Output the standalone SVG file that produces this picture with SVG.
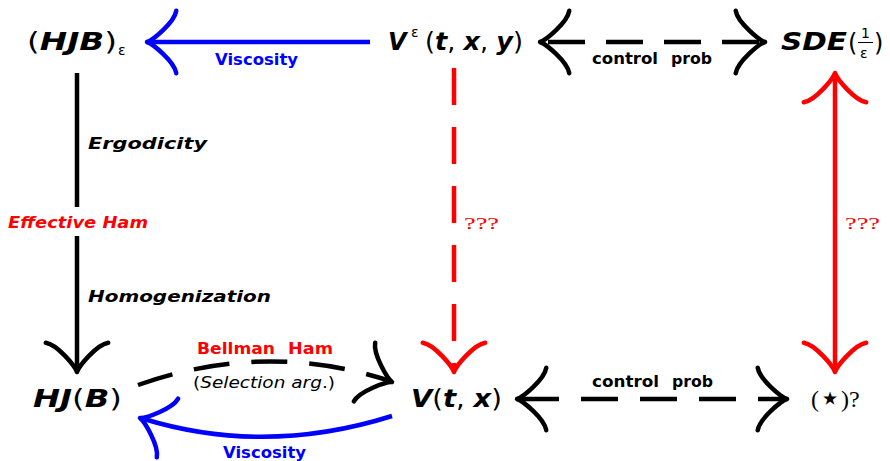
<svg xmlns="http://www.w3.org/2000/svg" xmlns:xlink="http://www.w3.org/1999/xlink" width="890" height="461" viewBox="0 0 890 461">
<defs>
<style>
.ln{fill:none;stroke-width:4.5}
.ah{fill:none;stroke-width:4.5;stroke-linecap:round;stroke-linejoin:round}
.k{stroke:#000}.b{stroke:#0000ff}.r{stroke:#ff0000}
.m{font-family:"DejaVu Sans",sans-serif;font-size:24px;fill:#000}
.bi{font-weight:bold;font-style:italic}
.lab{font-family:"DejaVu Sans",sans-serif;font-weight:bold;font-size:16px}
.ser{font-family:"Liberation Serif",serif}
.sm{font-family:"DejaVu Sans",sans-serif;font-size:14px;fill:#000}
</style>
<path id="ah" d="M-29.25,-31.2 C-27.3,-19.5 -5.85,-1.95 0,0 C-5.85,1.95 -27.3,19.5 -29.25,31.2"/>
</defs>
<rect width="890" height="461" fill="#fff"/>

<g id="connectors">
  <!-- Viscosity top -->
  <path class="ln b" d="M370,42 H152"/>
  <use href="#ah" class="ah b" transform="translate(147,42) rotate(180)"/>
  <text class="lab" x="215" y="65" fill="#0000ff" textLength="83" lengthAdjust="spacingAndGlyphs">Viscosity</text>
  <!-- control prob top -->
  <path class="ln k" d="M548,42 H760" stroke-dasharray="37 21"/>
  <use href="#ah" class="ah k" transform="translate(540,42) rotate(180)"/>
  <use href="#ah" class="ah k" transform="translate(765,42)"/>
  <text class="lab" x="592" y="64" fill="#000" textLength="66" lengthAdjust="spacingAndGlyphs">control</text>
  <text class="lab" x="671" y="64" fill="#000" textLength="41" lengthAdjust="spacingAndGlyphs">prob</text>
  <!-- left vertical -->
  <path class="ln k" d="M77,73 V207 M77,236 V367"/>
  <use href="#ah" class="ah k" transform="translate(77,372) rotate(90)"/>
  <text class="lab bi" x="88" y="149" fill="#000" textLength="119" lengthAdjust="spacingAndGlyphs">Ergodicity</text>
  <text class="lab bi" x="8" y="228" fill="#ff0000" textLength="140" lengthAdjust="spacingAndGlyphs">Effective Ham</text>
  <text class="lab bi" x="88" y="302" fill="#000" textLength="183" lengthAdjust="spacingAndGlyphs">Homogenization</text>
  <!-- middle red dashed -->
  <path class="ln r" d="M454,68 V367" stroke-dasharray="37 22"/>
  <use href="#ah" class="ah r" transform="translate(454,372) rotate(90)"/>
  <text class="ser" x="464" y="229" font-size="17" fill="#ff0000" textLength="35" lengthAdjust="spacingAndGlyphs">???</text>
  <!-- right red double -->
  <path class="ln r" d="M835,78 V367"/>
  <use href="#ah" class="ah r" transform="translate(835,73) rotate(-90)"/>
  <use href="#ah" class="ah r" transform="translate(835,372) rotate(90)"/>
  <text class="ser" x="845" y="229" font-size="17" fill="#ff0000" textLength="35" lengthAdjust="spacingAndGlyphs">???</text>
  <!-- Bellman Ham dashed curve -->
  <path class="ln k" d="M138,385 Q265,340 390,381" stroke-dasharray="36 22"/>
  <use href="#ah" class="ah k" transform="translate(392,382) rotate(20)"/>
  <text class="lab" x="197" y="354" fill="#ff0000" textLength="78" lengthAdjust="spacingAndGlyphs">Bellman</text>
  <text class="lab" x="288" y="354" fill="#ff0000" textLength="45" lengthAdjust="spacingAndGlyphs">Ham</text>
  <text x="193" y="388" font-family="DejaVu Sans, sans-serif" font-size="16" fill="#000" textLength="142" lengthAdjust="spacingAndGlyphs">(<tspan font-style="italic">Selection arg</tspan>.)</text>
  <!-- Viscosity bottom -->
  <path class="ln b" d="M392,416 Q265,456 144,419"/>
  <use href="#ah" class="ah b" transform="translate(140,418) rotate(200)"/>
  <text class="lab" x="223" y="458" fill="#0000ff" textLength="83" lengthAdjust="spacingAndGlyphs">Viscosity</text>
  <!-- control prob bottom -->
  <path class="ln k" d="M522,399 H782" stroke-dasharray="37 22"/>
  <use href="#ah" class="ah k" transform="translate(517,399) rotate(180)"/>
  <use href="#ah" class="ah k" transform="translate(787,399)"/>
  <text class="lab" x="592" y="387" fill="#000" textLength="67" lengthAdjust="spacingAndGlyphs">control</text>
  <text class="lab" x="672" y="387" fill="#000" textLength="41" lengthAdjust="spacingAndGlyphs">prob</text>
</g>

<g id="n-hjbe">
  <text class="m" x="27" y="50" textLength="90" lengthAdjust="spacingAndGlyphs">(<tspan class="bi">HJB</tspan>)</text>
  <text class="sm" x="118" y="55" font-size="18">ε</text>
</g>
<g id="n-veps">
  <text class="m bi" x="388" y="50">V</text>
  <text class="sm" x="411" y="37" font-size="18">ε</text>
  <text class="m" x="425" y="50" textLength="98" lengthAdjust="spacingAndGlyphs">(<tspan class="bi">t</tspan>, <tspan class="bi">x</tspan>, <tspan class="bi">y</tspan>)</text>
</g>
<g id="n-sde">
  <text class="m bi" x="781" y="50" textLength="66" lengthAdjust="spacingAndGlyphs">SDE</text>
  <text class="m" x="848" y="51" font-size="25">(</text>
  <text class="sm" x="861" y="38" font-size="15">1</text>
  <path d="M858,42.5 H873" stroke="#000" stroke-width="1"/>
  <text class="sm" x="860" y="58" font-size="15">ε</text>
  <text class="m" x="874" y="51" font-size="25">)</text>
</g>
<g id="n-hj">
  <text class="m" x="33" y="407" textLength="89" lengthAdjust="spacingAndGlyphs"><tspan class="bi">HJ</tspan>(<tspan class="bi">B</tspan>)</text>
</g>
<g id="n-v">
  <text class="m" x="411" y="407" textLength="91" lengthAdjust="spacingAndGlyphs"><tspan class="bi">V</tspan>(<tspan class="bi">t</tspan>, <tspan class="bi">x</tspan>)</text>
</g>
<g id="n-star">
  <text class="ser" x="811" y="407" font-size="24" fill="#000">(</text>
  <text x="830" y="410" font-family="DejaVu Sans, sans-serif" font-size="36" text-anchor="middle" fill="#000">⋆</text>
  <text class="ser" x="841" y="407" font-size="24" fill="#000">)?</text>
</g>
</svg>
